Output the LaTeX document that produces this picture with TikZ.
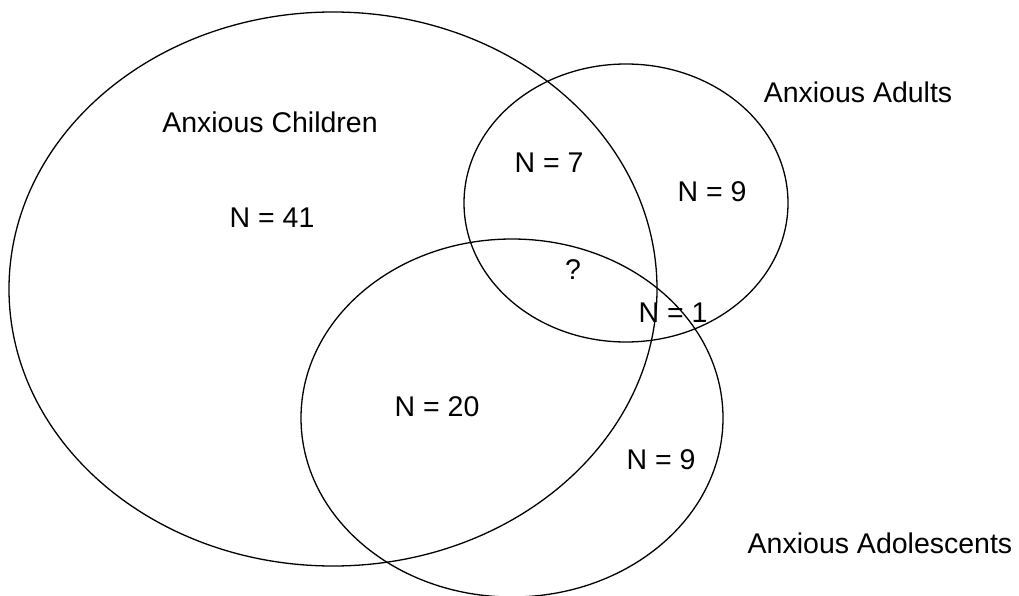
\documentclass[tikz,border=0pt]{standalone}
\usepackage{fontspec}
\setmainfont{Liberation Sans}
\begin{document}
\begin{tikzpicture}[x=1pt,y=-1pt,
  setring/.style={draw=black,line width=1.3pt},
  lbl/.style={inner sep=0pt,font=\fontsize{28.5}{34}\selectfont}]
\useasboundingbox (0,0) rectangle (1019,596);
\draw[setring] (333,289) ellipse [x radius=324, y radius=277];
\draw[setring] (626,203) ellipse [x radius=162, y radius=139];
\draw[setring] (512,418) ellipse [x radius=211, y radius=179];
\node[lbl] (tc) at (270,122) {Anxious Children};
\node[lbl] (ta) at (858,92) {Anxious Adults};
\node[lbl] (to) at (880,543) {Anxious Adolescents};
\node[lbl] (n41) at (272,218) {N = 41};
\node[lbl] (n7) at (549,163) {N = 7};
\node[lbl] (n9a) at (712,192) {N = 9};
\node[lbl] (q) at (573,270) {?};
\node[lbl] (n1) at (673,313) {N = 1};
\node[lbl] (n20) at (437,407) {N = 20};
\node[lbl] (n9b) at (661,460) {N = 9};
\end{tikzpicture}
\end{document}
